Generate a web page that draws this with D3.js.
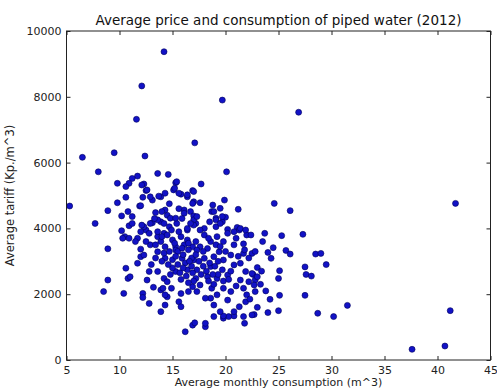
<!DOCTYPE html>
<html>
<head>
<meta charset="utf-8">
<script src="https://cdn.jsdelivr.net/npm/d3@7"></script>
<style>
  html, body { margin: 0; padding: 0; background: #fff; }
  svg { display: block; font-family: 'DejaVu Sans', sans-serif; }
</style>
</head>
<body>
<svg id="chart" width="497" height="389"></svg>
<script>
const title = 'Average price and consumption of piped water (2012)';
const xLabel = 'Average monthly consumption (m^3)';
const yLabel = 'Average tariff (Kp./m^3)';

const xTicks = [5, 10, 15, 20, 25, 30, 35, 40, 45];
const yTicks = [0, 2000, 4000, 6000, 8000, 10000];

// [consumption m^3, tariff Kp./m^3]
const outliers = [
  [14.2, 9370], [12.1, 8330], [11.6, 7315], [19.7, 7900], [26.9, 7530],
  [17.1, 6600], [12.4, 6200], [9.5, 6300], [6.5, 6160], [8.0, 5720],
  [20.1, 5720], [13.6, 5670], [14.6, 5640],
  [41.7, 4760], [41.2, 1500], [40.7, 425], [37.6, 325], [31.5, 1660],
  [30.2, 1320], [28.7, 1420], [29.5, 2900], [28.5, 3220], [29.0, 3240],
  [27.5, 2830], [27.6, 2600], [28.1, 2550], [27.5, 1965], [27.3, 3820],
  [25.3, 3780], [23.7, 3850], [24.6, 4760], [26.1, 4540], [22.5, 3240],
  [24.0, 3270], [24.5, 3415], [24.3, 3090], [25.7, 3330], [26.1, 3220],
  [23.0, 2810], [22.6, 2600], [22.8, 2430], [25.1, 2715], [25.0, 2480],
  [25.1, 1965], [24.2, 1845], [25.0, 1500], [24.0, 1440], [22.7, 1380],
];

const leftSide = [
  [5.3, 4680], [7.7, 4150], [8.9, 4540], [9.8, 4780], [10.6, 4945],
  [8.9, 3380], [8.9, 2430], [8.5, 2080], [10.4, 2025], [10.6, 2790],
  [10.8, 2480], [10.2, 4380], [10.2, 3930], [10.5, 3750], [11.2, 4360],
  [11.9, 4680], [12.2, 2025], [12.8, 1720], [13.2, 2210], [12.6, 2430],
  [11.7, 2940], [12.0, 3140], [11.7, 3700], [12.5, 3950],
  [11.7, 5590], [11.2, 5520], [10.9, 5370], [9.8, 5370], [10.6, 5270],
  [12.3, 5350], [12.5, 5150], [13.1, 4860], [13.9, 4960], [12.2, 4945],
  [12.0, 4690], [13.4, 4480], [10.9, 4080], [12.3, 4050], [13.1, 4170],
  [13.9, 4200], [14.5, 4400], [14.2, 3850], [13.6, 3750],
  [10.3, 3700], [12.0, 3370], [12.3, 3190], [11.0, 2530], [12.2, 1900],
  [13.9, 1470], [14.3, 1670], [12.8, 2690], [13.6, 2690], [14.2, 2480],
  [13.9, 2130], [14.5, 1920], [13.6, 3290], [13.9, 3600], [12.9, 3500],
];

const upperCore = [
  [17.7, 5350], [15.3, 5390], [15.1, 5170], [15.8, 5040], [16.9, 5150],
  [16.4, 4960], [17.0, 4810], [17.6, 4780], [18.8, 4710], [19.9, 4860],
  [21.2, 4580], [18.7, 4510], [19.5, 4610], [16.1, 4560], [16.7, 4510],
  [14.3, 4560], [14.8, 4310], [15.4, 4150], [17.0, 4380], [17.2, 4150],
  [19.1, 4310], [19.7, 4200], [20.0, 4340], [14.2, 4150], [16.4, 3950],
  [18.0, 4000], [19.1, 4050], [20.2, 3970], [21.1, 4030], [22.0, 3800],
  [21.3, 3950],
  [15.4, 5420], [15.2, 5220], [12.1, 5320], [12.6, 5170], [12.9, 4960],
  [13.7, 4980], [14.3, 5070], [15.6, 5070], [16.4, 5020], [16.9, 4760],
  [10.8, 4510], [14.0, 4510], [15.3, 4310], [16.1, 4460], [11.2, 4150],
  [12.1, 4100], [12.9, 4150], [13.6, 4260], [14.7, 4050], [16.4, 4000],
  [17.0, 4260], [12.0, 3900], [12.8, 3850], [13.6, 3900], [14.0, 3750],
  [14.5, 3800], [15.0, 3650], [15.8, 3750], [16.4, 3650], [10.9, 3700],
  [11.5, 3600], [12.5, 3600], [13.4, 3500], [14.3, 3440], [15.3, 3440],
  [16.1, 3500], [16.9, 3440],
  [17.0, 5120], [18.9, 4510], [19.7, 4360], [19.1, 4260], [19.5, 4150],
  [17.3, 4360], [17.0, 4100], [18.0, 3800], [19.2, 3750], [20.2, 3850],
  [20.8, 3900], [21.4, 4000], [21.9, 3950], [22.4, 3800], [18.6, 3600],
  [19.1, 3500], [19.8, 3600], [21.7, 3530], [17.2, 3600], [17.6, 3440],
  [14.7, 4750], [15.6, 4600], [13.3, 4300], [15.9, 4300], [16.7, 4150],
  [14.9, 3950], [15.6, 3900], [17.6, 3950], [18.5, 4200], [18.4, 3700],
];

const lowerCore = [
  [15.3, 3340], [14.3, 3090], [15.9, 3090], [15.3, 2690], [16.4, 2740],
  [14.5, 2380], [14.1, 2180], [14.9, 2180], [15.8, 2020], [16.5, 2080],
  [14.3, 1980], [15.6, 1770], [15.8, 1620], [16.9, 2230],
  [16.2, 860], [16.9, 1060], [17.1, 1130], [18.1, 1010], [18.9, 1320],
  [19.8, 1270], [20.8, 1340], [21.8, 1115],
  [17.3, 3340], [18.3, 3390], [19.4, 3290], [17.0, 3040], [18.0, 3090],
  [18.9, 3140], [19.8, 3040], [20.5, 3190], [17.3, 2740], [18.6, 2840],
  [19.7, 2740], [20.8, 2890], [17.2, 2480], [18.3, 2530], [19.2, 2480],
  [20.2, 2580], [21.7, 3240], [21.4, 2940], [21.9, 2690], [22.5, 2630],
  [23.0, 2530], [22.2, 2380], [21.4, 2430], [21.7, 2180], [22.7, 2280],
  [22.8, 2080], [22.0, 1980], [21.9, 1770], [21.3, 1620], [20.8, 1470],
  [20.3, 1320], [19.8, 1340], [19.5, 1470], [18.9, 1670], [18.6, 1880],
  [18.1, 1880], [19.2, 1980], [18.7, 2180], [19.8, 2180], [20.5, 2080],
  [20.2, 1820], [17.3, 2080], [17.6, 2280], [21.7, 1320], [22.5, 1370],
  [18.1, 1115],
  [15.5, 3300], [16.0, 3200], [16.5, 3350], [16.8, 3100], [15.0, 3050],
  [15.5, 2900], [16.2, 2950], [16.8, 2850], [15.0, 2800], [15.7, 2650],
  [16.3, 2550], [16.9, 2650], [17.0, 2400], [16.5, 2350], [15.8, 2450],
  [14.8, 2600], [14.6, 2900], [14.0, 3000], [14.2, 3250], [13.4, 3100],
  [13.0, 2900], [15.2, 3550], [16.5, 3550], [17.5, 3000], [17.7, 2600],
  [18.2, 2700], [18.5, 2950], [19.0, 2850], [19.3, 2600], [19.8, 2400],
  [18.9, 2300], [18.4, 2400], [20.5, 2700], [20.0, 3300], [19.5, 3450],
  [21.0, 3700], [21.8, 3350], [22.2, 3100], [21.2, 3150], [20.8, 3500],
  [23.5, 3600], [22.8, 3300], [23.4, 2700], [23.8, 2100], [23.3, 2300],
  [22.3, 1850], [23.0, 1600], [21.0, 2250], [20.3, 2450],
  [15.9, 3400], [16.6, 3000], [17.2, 3200], [15.3, 3150], [17.9, 2850],
  [16.0, 2800], [18.8, 2600], [17.9, 3300], [19.3, 3000], [14.7, 3300],
];

const readings = [...outliers, ...leftSide, ...upperCore, ...lowerCore];

const width = 497;
const height = 389;
const margin = { top: 31, right: 6.5, bottom: 29, left: 66.5 };
const tickLen = 4;

const svg = d3.select('#chart');

const x = d3
  .scaleLinear()
  .domain([xTicks[0], xTicks[xTicks.length - 1]])
  .range([margin.left, width - margin.right]);
const y = d3
  .scaleLinear()
  .domain([yTicks[0], yTicks[yTicks.length - 1]])
  .range([height - margin.bottom, margin.top]);

// points first, frame drawn over them
svg
  .append('g')
  .attr('class', 'points')
  .selectAll('circle')
  .data(readings)
  .join('circle')
  .attr('cx', (d) => x(d[0]))
  .attr('cy', (d) => y(d[1]))
  .attr('r', 3)
  .attr('fill', '#1212c6')
  .attr('stroke', '#00005a')
  .attr('stroke-width', 0.6);

function styleAxis(g) {
  g.select('.domain').remove();
  g.selectAll('.tick line').attr('stroke', '#222').attr('stroke-width', 1);
  g.selectAll('.tick text')
    .attr('fill', '#222')
    .attr('font-size', 11)
    .attr('font-family', "'DejaVu Sans', sans-serif");
}

// ticks point inward on all four sides, labels only bottom/left
svg
  .append('g')
  .attr('transform', `translate(0,${y(0)})`)
  .call(d3.axisBottom(x).tickValues(xTicks).tickSize(-tickLen).tickPadding(6).tickFormat(d3.format('d')))
  .call(styleAxis);
svg
  .append('g')
  .attr('transform', `translate(0,${margin.top})`)
  .call(d3.axisTop(x).tickValues(xTicks).tickSize(-tickLen).tickFormat(''))
  .call(styleAxis);
svg
  .append('g')
  .attr('transform', `translate(${margin.left},0)`)
  .call(d3.axisLeft(y).tickValues(yTicks).tickSize(-tickLen).tickPadding(5).tickFormat(d3.format('d')))
  .call(styleAxis);
svg
  .append('g')
  .attr('transform', `translate(${width - margin.right},0)`)
  .call(d3.axisRight(y).tickValues(yTicks).tickSize(-tickLen).tickFormat(''))
  .call(styleAxis);

svg
  .append('rect')
  .attr('x', margin.left)
  .attr('y', margin.top)
  .attr('width', width - margin.left - margin.right)
  .attr('height', height - margin.top - margin.bottom)
  .attr('fill', 'none')
  .attr('stroke', '#222')
  .attr('stroke-width', 1);

svg
  .append('text')
  .attr('x', (margin.left + width - margin.right) / 2)
  .attr('y', margin.top - 6)
  .attr('text-anchor', 'middle')
  .attr('font-size', 13.5)
  .attr('fill', '#111')
  .text(title);

svg
  .append('text')
  .attr('x', (margin.left + width - margin.right) / 2)
  .attr('y', height - 3.5)
  .attr('text-anchor', 'middle')
  .attr('font-size', 11)
  .attr('fill', '#222')
  .text(xLabel);

svg
  .append('text')
  .attr('transform', `translate(14,${(margin.top + height - margin.bottom) / 2}) rotate(-90)`)
  .attr('text-anchor', 'middle')
  .attr('font-size', 11.5)
  .attr('fill', '#222')
  .text(yLabel);
</script>
</body>
</html>
